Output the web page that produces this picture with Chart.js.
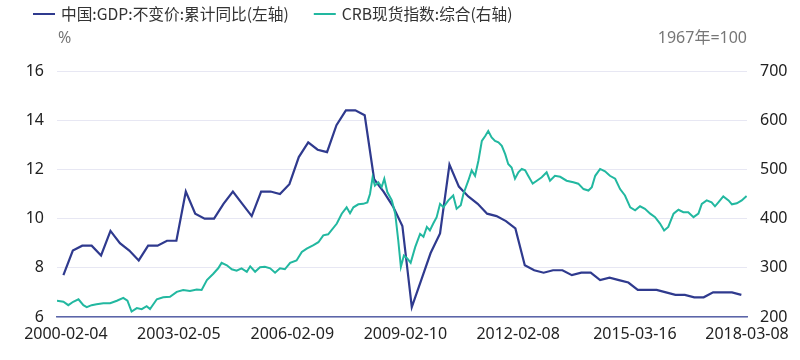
<!DOCTYPE html>
<html><head><meta charset="utf-8">
<script src="https://cdn.jsdelivr.net/npm/chart.js@4.4.1/dist/chart.umd.min.js"></script>
<style>html,body{margin:0;padding:0;background:#fff}#wrap{width:800px;height:360px}</style>
</head><body><div id="wrap"><canvas id="c" width="800" height="360"></canvas></div>
<script>
const seriesNames = ['中国:GDP:不变价:累计同比(左轴)', 'CRB现货指数:综合(右轴)'];
const leftUnit = '%';
const rightUnit = '1967年=100';

// GDP cumulative YoY, quarterly, first point 1999Q4
const gdpStartYear = 2000.03;
const gdpValues = [7.7, 8.7, 8.9, 8.9, 8.5, 9.5, 9.0, 8.7, 8.3, 8.9, 8.9, 9.1, 9.1,
  11.1, 10.2, 10.0, 10.0, 10.6, 11.1, 10.6, 10.1, 11.1, 11.1, 11.0, 11.4,
  12.5, 13.1, 12.8, 12.7, 13.8, 14.4, 14.4, 14.2, 11.6, 11.1, 10.5, 9.7,
  6.4, 7.5, 8.6, 9.4, 12.2, 11.3, 10.9, 10.6, 10.2, 10.1, 9.9, 9.6,
  8.1, 7.9, 7.8, 7.9, 7.9, 7.7, 7.8, 7.8, 7.5, 7.6, 7.5, 7.4,
  7.1, 7.1, 7.1, 7.0, 6.9, 6.9, 6.8, 6.8, 7.0, 7.0, 7.0, 6.9];

// CRB spot index (decimal year, value)
const crbYears = [1999.86, 2000.03, 2000.16, 2000.29, 2000.43, 2000.56, 2000.65, 2000.78, 2000.91, 2001.09,
  2001.27, 2001.45, 2001.62, 2001.73, 2001.84, 2001.98, 2002.11, 2002.24, 2002.33, 2002.51,
  2002.68, 2002.86, 2003.04, 2003.21, 2003.39, 2003.57, 2003.70, 2003.84, 2004.01, 2004.14,
  2004.23, 2004.37, 2004.50, 2004.63, 2004.76, 2004.90, 2004.99, 2005.12, 2005.25, 2005.38,
  2005.52, 2005.65, 2005.78, 2005.91, 2006.05, 2006.22, 2006.36, 2006.49, 2006.67, 2006.80,
  2006.93, 2007.06, 2007.29, 2007.42, 2007.55, 2007.64, 2007.73, 2007.86, 2007.99, 2008.10,
  2008.17, 2008.24, 2008.30, 2008.39, 2008.48, 2008.55, 2008.63, 2008.75, 2008.84, 2008.92,
  2008.99, 2009.07, 2009.16, 2009.25, 2009.37, 2009.50, 2009.59, 2009.68, 2009.76, 2009.85,
  2009.94, 2010.03, 2010.12, 2010.25, 2010.38, 2010.47, 2010.58, 2010.65, 2010.78, 2010.87,
  2010.96, 2011.05, 2011.14, 2011.23, 2011.31, 2011.40, 2011.49, 2011.58, 2011.67, 2011.76,
  2011.84, 2011.93, 2012.02, 2012.11, 2012.20, 2012.29, 2012.37, 2012.49, 2012.60, 2012.73,
  2012.86, 2012.95, 2013.08, 2013.22, 2013.39, 2013.57, 2013.70, 2013.84, 2013.97, 2014.06,
  2014.15, 2014.28, 2014.41, 2014.54, 2014.68, 2014.81, 2014.94, 2015.08, 2015.21, 2015.34,
  2015.47, 2015.61, 2015.74, 2015.87, 2015.98, 2016.09, 2016.23, 2016.36, 2016.49, 2016.62,
  2016.76, 2016.89, 2016.98, 2017.11, 2017.24, 2017.33, 2017.42, 2017.55, 2017.69, 2017.78,
  2017.91, 2018.04, 2018.17];
const crbValues = [233, 231, 224, 231, 236, 224, 220, 224, 226, 228,
  228, 233, 239, 233, 211, 218, 216, 222, 216, 236,
  240, 241, 251, 255, 253, 256, 255, 275, 288, 299,
  310, 305, 297, 294, 299, 292, 303, 292, 301, 302,
  299, 290, 299, 297, 310, 315, 332, 339, 346, 352,
  366, 368, 390, 410, 423, 411, 423, 429, 430, 433,
  450, 484, 467, 474, 464, 481, 454, 437, 410, 356,
  302, 325, 319, 310, 342, 369, 363, 383, 376, 390,
  403, 430, 423, 437, 447, 420, 427, 450, 477, 498,
  487, 518, 558, 568, 578, 565, 558, 555, 548, 531,
  511, 504, 481, 494, 501, 498, 487, 471, 477, 484,
  494, 477, 487, 485, 477, 474, 471, 460, 457, 464,
  487, 501, 496, 487, 481, 460, 447, 423, 417, 425,
  420, 410, 403, 390, 376, 383, 410, 418, 413, 413,
  403, 410, 430, 437, 433, 425, 433, 445, 437, 429,
  431, 437, 446];

const xTickYears = [2000.096, 2003.096, 2006.107, 2009.11, 2012.104, 2015.204, 2018.18];
const xTickLabels = ['2000-02-04', '2003-02-05', '2006-02-09', '2009-02-10', '2012-02-08', '2015-03-16', '2018-03-08'];
const leftTicks = [6, 8, 10, 12, 14, 16];
const rightTicks = [200, 300, 400, 500, 600, 700];

const gdpColor = '#2f3a8e';
const crbColor = '#22b8a0';

const gdpData = gdpValues.map((v, i) => ({x: gdpStartYear + i * 0.25, y: v}));
const crbData = crbValues.map((v, i) => ({x: crbYears[i], y: v}));

const headerPlugin = {
  id: 'header',
  afterDraw(chart) {
    const ctx = chart.ctx;
    const ca = chart.chartArea;
    ctx.save();
    ctx.font = '15.7px "Noto Sans CJK SC", sans-serif';
    ctx.textBaseline = 'middle';
    ctx.textAlign = 'left';
    let x = 33;
    const colors = [gdpColor, crbColor];
    seriesNames.forEach((name, i) => {
      ctx.strokeStyle = colors[i];
      ctx.lineWidth = 2;
      ctx.beginPath(); ctx.moveTo(x, 14); ctx.lineTo(x + 22, 14); ctx.stroke();
      ctx.fillStyle = '#333';
      ctx.fillText(name, x + 28, 14);
      x += 28 + ctx.measureText(name).width + 25;
    });
    ctx.fillStyle = '#777';
    ctx.font = '16px "Noto Sans", "Noto Sans CJK SC", sans-serif';
    ctx.fillText(leftUnit, ca.left + 1, 38);
    ctx.textAlign = 'right';
    ctx.fillText(rightUnit, ca.right, 38);
    ctx.restore();
  }
};

const tickFont = {family: '"Noto Sans", sans-serif', size: 16};

new Chart(document.getElementById('c'), {
  type: 'line',
  data: {
    datasets: [
      {label: seriesNames[0], data: gdpData, yAxisID: 'y', borderColor: gdpColor, borderWidth: 2.2,
       pointRadius: 0, tension: 0, fill: false, order: 2},
      {label: seriesNames[1], data: crbData, yAxisID: 'y2', borderColor: crbColor, borderWidth: 2,
       pointRadius: 0, tension: 0, fill: false, order: 1}
    ]
  },
  options: {
    responsive: false,
    animation: false,
    layout: {padding: {top: 71, left: 0, right: 0, bottom: 0}},
    plugins: {legend: {display: false}, tooltip: {enabled: false}},
    scales: {
      x: {
        type: 'linear', min: 1999.86, max: 2018.18,
        afterBuildTicks: a => { a.ticks = xTickYears.map(v => ({value: v})); },
        afterFit: s => { s.height = 43; },
        ticks: {autoSkip: false, maxRotation: 0, minRotation: 0, padding: 8, color: '#222', font: tickFont,
                callback: (v, i) => xTickLabels[i]},
        grid: {display: false, drawTicks: false},
        border: {display: true, color: '#5b65a8', width: 1.5}
      },
      y: {
        position: 'left', min: 6, max: 16,
        afterBuildTicks: a => { a.ticks = leftTicks.map(v => ({value: v})); },
        afterFit: s => { s.width = 57; },
        ticks: {padding: 13, color: '#222', font: tickFont},
        grid: {color: '#e7e7f3', drawTicks: false, lineWidth: 1},
        border: {display: false}
      },
      y2: {
        position: 'right', min: 200, max: 700,
        afterBuildTicks: a => { a.ticks = rightTicks.map(v => ({value: v})); },
        afterFit: s => { s.width = 53; },
        ticks: {padding: 13, color: '#222', font: tickFont},
        grid: {display: false, drawTicks: false},
        border: {display: false}
      }
    }
  },
  plugins: [headerPlugin]
});
</script>
</body></html>
